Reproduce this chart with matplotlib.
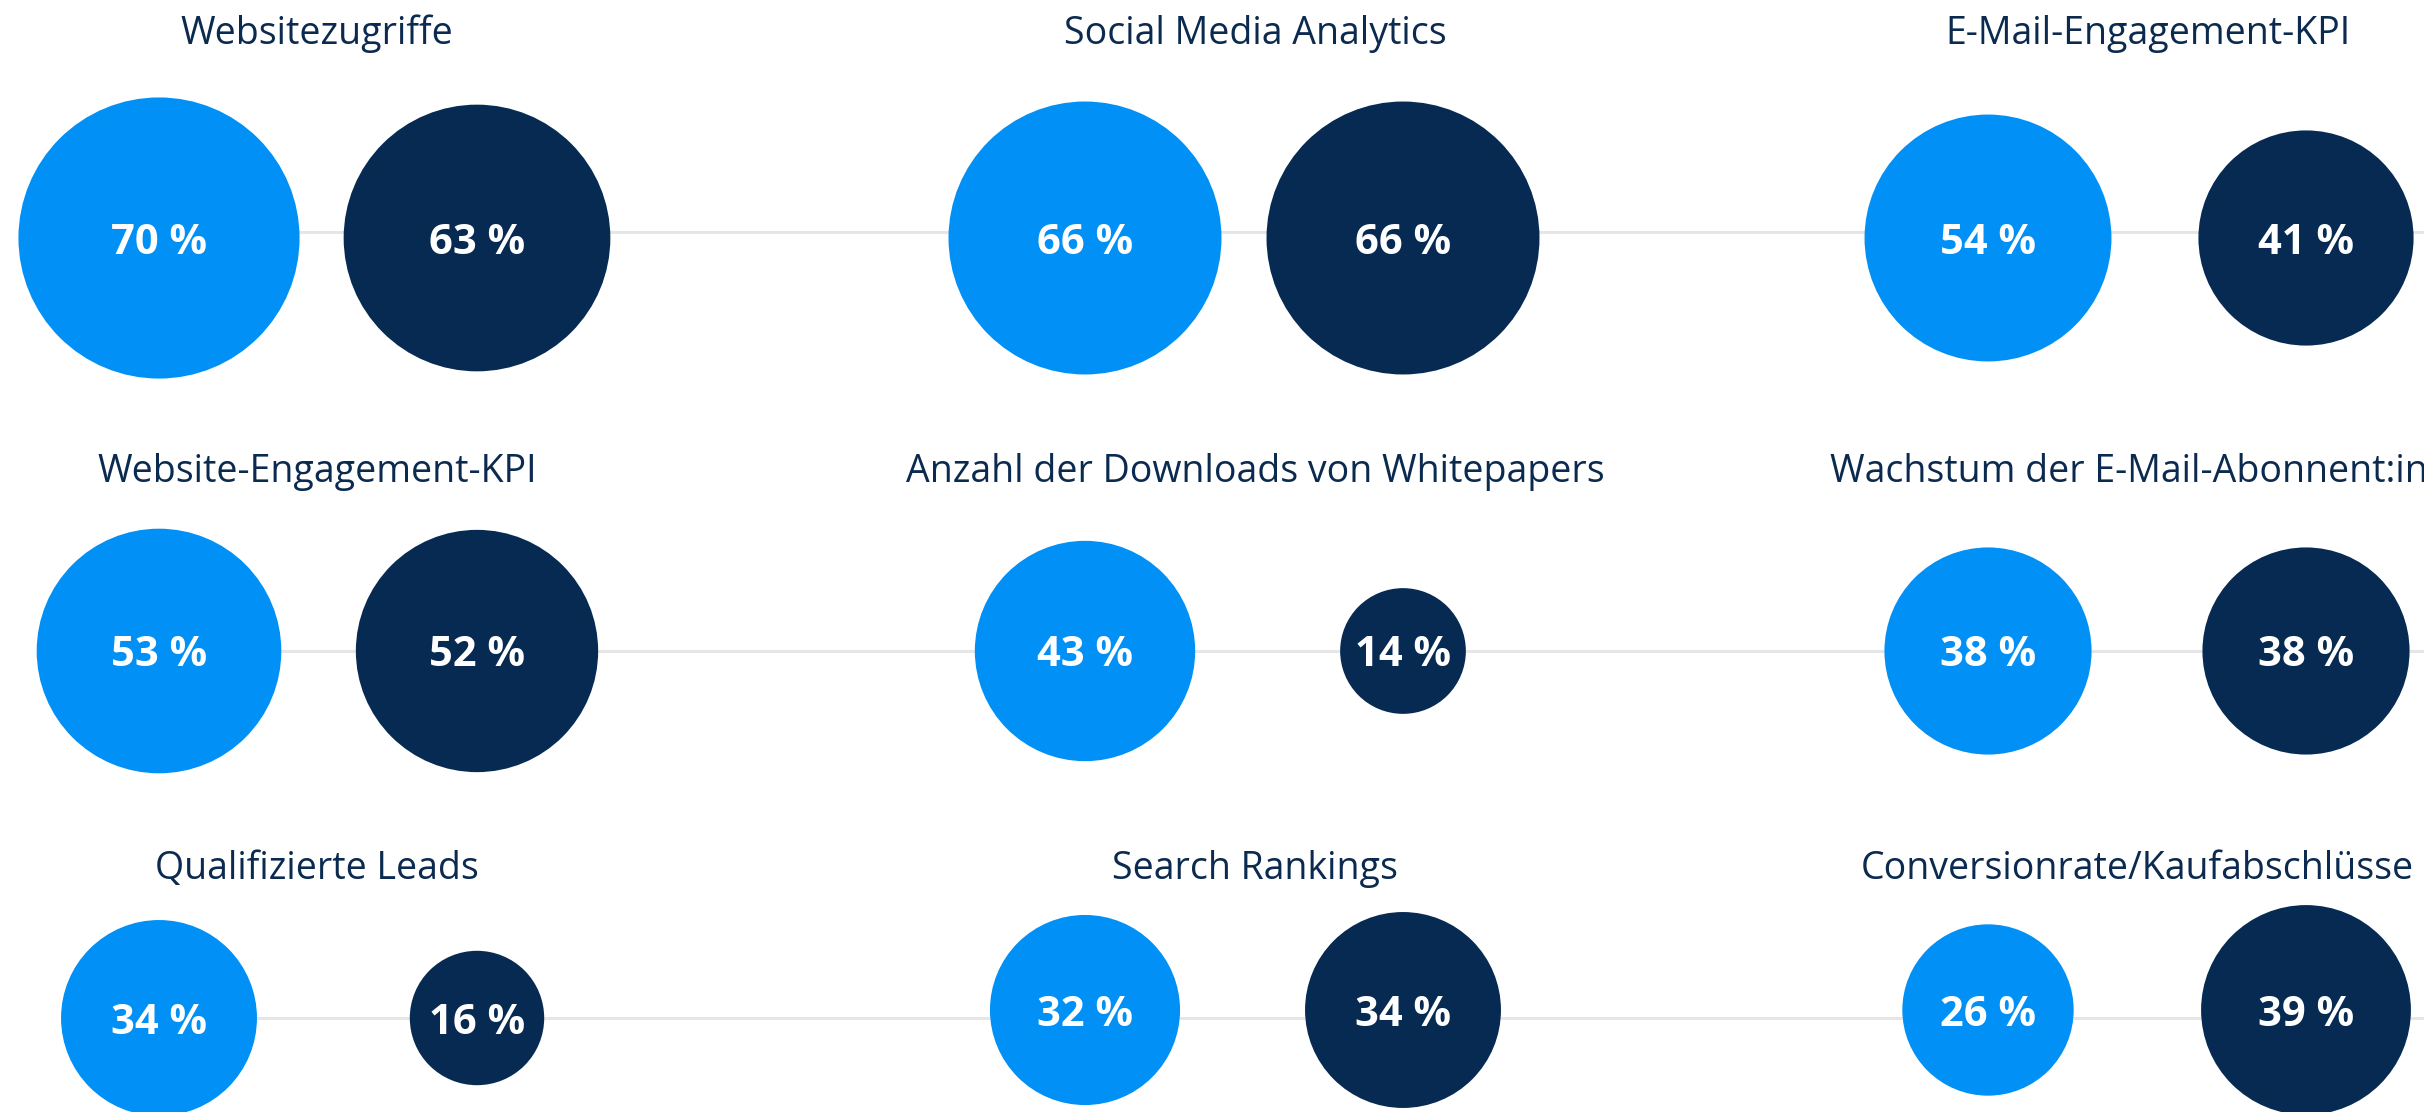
import numpy as np
import matplotlib
matplotlib.use('Agg')
import matplotlib.pyplot as plt
from matplotlib.patches import Circle

plt.rcParams['font.family'] = ['Open Sans', 'DejaVu Sans']

# KPI groups, read row by row
kpis = ['Websitezugriffe', 'Social Media Analytics', 'E-Mail-Engagement-KPI',
        'Website-Engagement-KPI', 'Anzahl der Downloads von Whitepapers',
        'Wachstum der E-Mail-Abonnent:innen',
        'Qualifizierte Leads', 'Search Rankings', 'Conversionrate/Kaufabschlüsse']
share_a = [70, 66, 54, 53, 43, 38, 34, 32, 26]   # light blue bubbles
share_b = [63, 66, 41, 52, 14, 38, 16, 34, 39]   # dark blue bubbles

# layout in pixels of the 2424 x 1112 canvas
W, H = 2424, 1112
col_a_x = [159, 1085, 1988]
pair_gap = 318
title_x = [[317, 1255, 2148], [317, 1255, 2162], [317, 1255, 2137]]
row_line_y = [232, 651, 1018]
row_title_y = [34, 472, 869]
bubble_y = [[238, 238, 238], [651, 651, 651], [1018, 1010, 1010]]
r_scale = 16.8  # radius = r_scale * sqrt(value)

light = '#0090f6'
dark = '#062a52'

fig = plt.figure(figsize=(W / 100, H / 100), dpi=100)
ax = fig.add_axes([0, 0, 1, 1])
ax.set_xlim(0, W)
ax.set_ylim(H, 0)
ax.set_aspect('equal')
ax.axis('off')

for r in range(3):
    ax.plot([col_a_x[0], W], [row_line_y[r]] * 2, color='#e6e6e6', lw=2.2, zorder=1,
            solid_capstyle='butt')

for i, name in enumerate(kpis):
    r, c = divmod(i, 3)
    y = bubble_y[r][c]
    # the long third-column title runs off the right edge
    ax.text(title_x[r][c], row_title_y[r], name, ha='center', va='center',
            fontsize=27, color='#0b2a4f')
    for x, v, col in [(col_a_x[c], share_a[i], light),
                      (col_a_x[c] + pair_gap, share_b[i], dark)]:
        ax.add_patch(Circle((x, y), r_scale * np.sqrt(v), color=col, lw=0, zorder=2))
        ax.text(x, y + 5, f'{v} %', ha='center', va='center', fontsize=30,
                fontweight='bold', color='white', zorder=3)

fig.savefig('out.png', dpi=100)
